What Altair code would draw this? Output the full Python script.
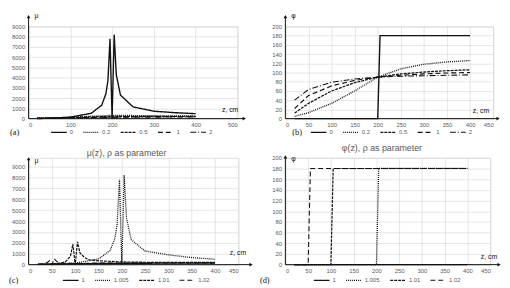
import altair as alt
import pandas as pd

# ---------------- data ----------------
# (a) mu(z), rho as parameter (0, 0.2, 0.5, 1, 2)
z_a0 = [20, 50, 100, 150, 175, 185, 190, 195, 200, 205, 210, 220, 250, 300, 350, 400]
mu_a0 = [5, 30, 140, 520, 1300, 2400, 3700, 7800, 0, 8200, 4300, 2300, 1150, 720, 580, 480]
z_ab = [20, 50, 100, 150, 200, 250, 300, 350, 400]
mu_a02 = [40, 70, 130, 230, 320, 300, 280, 260, 250]
mu_a05 = [30, 60, 110, 170, 210, 220, 220, 220, 220]
mu_a1 = [25, 50, 90, 130, 160, 175, 185, 190, 190]
mu_a2 = [20, 40, 70, 100, 120, 135, 145, 150, 155]

# (b) phi(z)
z_b0 = [20, 200, 205, 400]
phi_b0 = [0, 0, 180, 180]
phi_b02 = [5, 13, 33, 60, 90, 108, 118, 123, 126]
phi_b05 = [12, 33, 60, 78, 90, 97, 101, 104, 106]
phi_b1 = [22, 50, 71, 83, 90, 94, 97, 99, 100]
phi_b2 = [40, 63, 79, 86, 90, 92, 93, 94, 95]

# (c) mu(z), rho = 1, 1.005, 1.01, 1.02
z_c1 = [20, 100, 200, 300, 400]
mu_c1 = [40, 80, 120, 140, 150]
z_c1005 = [20, 50, 100, 150, 175, 185, 190, 195, 200, 205, 210, 220, 250, 300, 350, 400]
mu_c1005 = [30, 60, 150, 520, 1300, 2400, 3700, 7800, 0, 8200, 4300, 2300, 1250, 900, 650, 500]
z_c101 = [20, 50, 70, 80, 90, 95, 100, 105, 110, 120, 130, 150, 200, 250, 300, 350, 400]
mu_c101 = [20, 60, 150, 300, 800, 1900, 0, 2100, 1100, 650, 450, 350, 250, 220, 200, 200, 200]
z_c102 = [20, 30, 40, 45, 50, 55, 60, 70, 80, 100, 150, 200, 300, 400]
mu_c102 = [20, 80, 200, 350, 0, 550, 300, 150, 120, 100, 150, 150, 150, 150]

# (d) phi(z)
z_d1 = [20, 400]
phi_d1 = [0, 0]
z_d1005 = [20, 200, 205, 400]
phi_d1005 = [0, 0, 180, 180]
z_d101 = [20, 100, 105, 400]
phi_d101 = [0, 0, 180, 180]
z_d102 = [20, 50, 55, 400]
phi_d102 = [0, 0, 180, 180]

ticks_a_x = [0, 100, 200, 300, 400, 500]
ticks_450 = [0, 50, 100, 150, 200, 250, 300, 350, 400, 450]
ticks_mu = [0, 1000, 2000, 3000, 4000, 5000, 6000, 7000, 8000, 9000]
ticks_phi = [0, 20, 40, 60, 80, 100, 120, 140, 160, 180, 200]

labels_ab = ["0", "0.2", "0.5", "1", "2"]
labels_cd = ["1", "1.005", "1.01", "1.02"]


def frame(series):
    rows = []
    for name, zs, vs in series:
        for z, v in zip(zs, vs):
            rows.append({"z": z, "v": v, "s": name})
    return pd.DataFrame(rows)


df_a = frame([("0", z_a0, mu_a0), ("0.2", z_ab, mu_a02), ("0.5", z_ab, mu_a05),
              ("1", z_ab, mu_a1), ("2", z_ab, mu_a2)])
df_b = frame([("0", z_b0, phi_b0), ("0.2", z_ab, phi_b02), ("0.5", z_ab, phi_b05),
              ("1", z_ab, phi_b1), ("2", z_ab, phi_b2)])
df_c = frame([("1", z_c1, mu_c1), ("1.005", z_c1005, mu_c1005),
              ("1.01", z_c101, mu_c101), ("1.02", z_c102, mu_c102)])
df_d = frame([("1", z_d1, phi_d1), ("1.005", z_d1005, phi_d1005),
              ("1.01", z_d101, phi_d101), ("1.02", z_d102, phi_d102)])

# ---------------- styling ----------------
FONT = "Liberation Sans"
SERIF = "Liberation Serif"
GRID = "#d9d9d9"
LAB = "#595959"
INK = "#111111"

DASH_AB = [[1, 0], [1, 1], [3, 1], [5, 3], [6, 2, 1, 2]]
WID_AB = [1.4, 1.1, 1.2, 1.2, 1.2]
DASH_CD = [[1, 0], [1, 1], [3, 1], [5, 3]]
WID_CD = [1.4, 1.1, 1.2, 1.2]

one = pd.DataFrame({"k": [0]})
SYM = 16  # legend symbol length (px)


def panel(df, order, dashes, widths, xdom, xticks, ydom, yticks, W, H,
          ylab, letter, letter_x, leg_x, leg_c, arrow_top, ylab_y, x_ext, zcm_x, zcm_dy,
          title=None, title_dx=0, title_y=-16):
    axis_x = alt.Axis(values=xticks, grid=True, gridColor=GRID, gridWidth=0.7,
                      domain=False, ticks=False, labelFont=FONT, labelFontSize=6,
                      labelColor=LAB, labelPadding=3, title=None, format="d")
    axis_y = alt.Axis(values=yticks, grid=True, gridColor=GRID, gridWidth=0.7,
                      domain=False, ticks=False, labelFont=FONT, labelFontSize=6,
                      labelColor=LAB, labelPadding=4, title=None, format="d")
    lines = alt.Chart(df).mark_line(color=INK, strokeCap="butt").encode(
        x=alt.X("z:Q", scale=alt.Scale(domain=xdom, nice=False, zero=False), axis=axis_x),
        y=alt.Y("v:Q", scale=alt.Scale(domain=ydom, nice=False), axis=axis_y),
        strokeDash=alt.StrokeDash(
            "s:N", sort=order, scale=alt.Scale(domain=order, range=dashes),
            legend=alt.Legend(orient="none", legendX=leg_x, legendY=H + leg_c - SYM / 2,
                              direction="horizontal", title=None, symbolType="stroke",
                              symbolSize=SYM * SYM, symbolStrokeWidth=1.2,
                              symbolStrokeColor=INK, labelFont=FONT, labelFontSize=6,
                              labelColor=LAB, labelOffset=2, columnPadding=7)),
        strokeWidth=alt.StrokeWidth("s:N", scale=alt.Scale(domain=order, range=widths),
                                    legend=None),
        order=alt.Order("z:Q"),
    )
    yline = alt.Chart(one).mark_rule(color=INK, strokeWidth=1).encode(
        x=alt.value(0), y=alt.value(H), y2=alt.value(arrow_top + 1))
    yhead = alt.Chart(one).mark_point(shape="triangle-up", filled=True, size=14,
                                      color=INK, opacity=1).encode(
        x=alt.value(0), y=alt.value(arrow_top))
    xline = alt.Chart(one).mark_rule(color=INK, strokeWidth=1).encode(
        x=alt.value(0), x2=alt.value(W + x_ext - 1), y=alt.value(H))
    xhead = alt.Chart(one).mark_point(shape="triangle-right", filled=True, size=14,
                                      color=INK, opacity=1).encode(
        x=alt.value(W + x_ext), y=alt.value(H))
    ylabel = alt.Chart(one).mark_text(font=FONT, fontSize=7, color=INK, align="left",
                                      baseline="middle").encode(
        x=alt.value(6), y=alt.value(ylab_y), text=alt.value(ylab))
    zlabel = alt.Chart(one).mark_text(font=FONT, fontSize=7, color=INK, align="right",
                                      baseline="middle").encode(
        x=alt.value(zcm_x), y=alt.value(H - zcm_dy), text=alt.value("z, cm"))
    let = alt.Chart(one).mark_text(font=SERIF, fontSize=8.5, color=INK, align="left",
                                   baseline="middle").encode(
        x=alt.value(letter_x), y=alt.value(H + leg_c + 1), text=alt.value(letter))
    layers = [lines, yline, yhead, xline, xhead, ylabel, zlabel, let]
    if title:
        tt = alt.Chart(one).mark_text(font=FONT, fontSize=9, color=LAB, align="center",
                                      baseline="middle").encode(
            x=alt.value(W / 2 + title_dx), y=alt.value(title_y), text=alt.value(title))
        layers.append(tt)
    return alt.layer(*layers).properties(width=W, height=H)


HC = 109
MU_TOP_C = 9000 * HC / 100  # the 9000 line sits 9 px below the top of panel (c)

pa = panel(df_a, labels_ab, DASH_AB, WID_AB, [0, 500], ticks_a_x, [0, 9000], ticks_mu,
           213, 94, "μ", "(a)", -19, 22, 13, -10, -11, 7, 214, 9)
pb = panel(df_b, labels_ab, DASH_AB, WID_AB, [0, 450], ticks_450, [0, 200], ticks_phi,
           212, 94, "φ", "(b)", 7, 25, 13, -10, -11, 5, 208, 8)
pc = panel(df_c, labels_cd, DASH_CD, WID_CD, [0, 450], ticks_450, [0, MU_TOP_C], ticks_mu,
           214, HC, "μ", "(c)", -20, 34, 15, 1, 3, 13, 222, 12,
           title="μ(z), ρ as parameter", title_dx=-7, title_y=-5)
pd_ = panel(df_d, labels_cd, DASH_CD, WID_CD, [0, 450], ticks_450, [0, 200], ticks_phi,
            209, HC, "φ", "(d)", -26, 28, 15, -1, 1, 9, 216, 8,
            title="φ(z), ρ as parameter", title_dx=-6, title_y=-10)

chart = alt.concat(pa, pb, pc, pd_, columns=2, spacing={"row": 40, "column": 48},
                   bounds="flush", align="none").resolve_scale(
    strokeDash="independent", strokeWidth="independent"
).resolve_legend(strokeDash="independent").properties(
    padding={"left": 0, "top": 0, "right": 0, "bottom": 0}
).configure_view(stroke=None).configure(background="white")

chart.save("out.html", embed_options={"renderer": "svg", "actions": False})
